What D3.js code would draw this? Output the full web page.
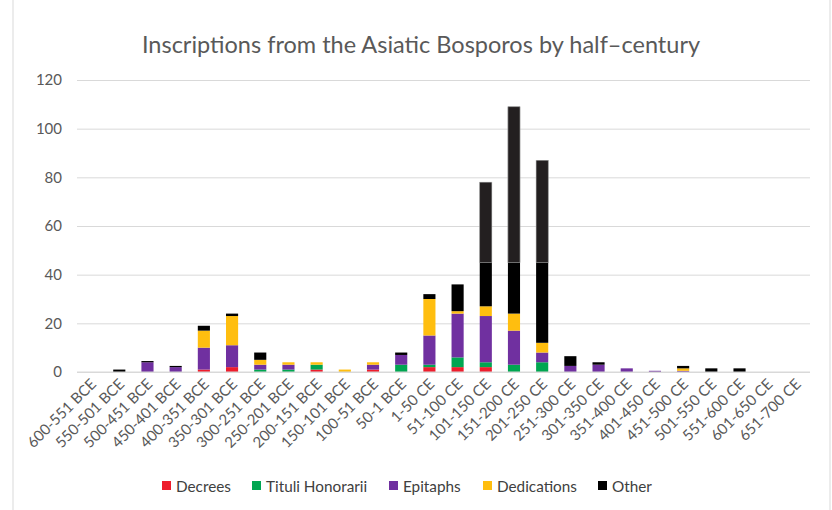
<!DOCTYPE html>
<html>
<head>
<meta charset="utf-8">
<script src="https://cdn.jsdelivr.net/npm/d3@7"></script>
<style>
  html, body { margin: 0; padding: 0; background: #fff; }
  svg { display: block; font-family: Lato, "Open Sans", sans-serif; }
</style>
</head>
<body>
<svg id="chart" width="832" height="510"></svg>
<script>
// Half-century periods
const periods = [
  "600-551 BCE", "550-501 BCE", "500-451 BCE", "450-401 BCE", "400-351 BCE",
  "350-301 BCE", "300-251 BCE", "250-201 BCE", "200-151 BCE", "150-101 BCE",
  "100-51 BCE", "50-1 BCE", "1-50 CE", "51-100 CE", "101-150 CE",
  "151-200 CE", "201-250 CE", "251-300 CE", "301-350 CE", "351-400 CE",
  "401-450 CE", "451-500 CE", "501-550 CE", "551-600 CE", "601-650 CE", "651-700 CE"
];

// Counts per inscription type
const decrees     = [0, 0, 0, 0, 1, 2, 0, 0, 1, 0, 1, 0, 2, 2, 2, 0, 0, 0, 0, 0, 0, 0, 0, 0, 0, 0];
const tituli      = [0, 0, 0, 0, 0, 0, 1, 1, 2, 0, 0, 3, 1, 4, 2, 3, 4, 0, 0, 0, 0, 0, 0, 0, 0, 0];
const epitaphs    = [0, 0, 4, 2, 9, 9, 2, 2, 0, 0, 2, 4, 12, 18, 19, 14, 4, 2.5, 3, 1.5, 0.5, 0.5, 0, 0, 0, 0];
const dedications = [0, 0, 0, 0, 7, 12, 2, 1, 1, 1, 1, 0, 15, 1, 4, 7, 4, 0, 0, 0, 0, 1, 0, 0, 0, 0];
const other       = [0, 1, 0.5, 0.5, 2, 1, 3, 0, 0, 0, 0, 1, 2, 11, 51, 85, 75, 4, 1, 0, 0, 1, 1.5, 1.5, 0, 0];

const seriesNames  = ["Decrees", "Tituli Honorarii", "Epitaphs", "Dedications", "Other"];
const seriesColors = ["#ee1d2c", "#00a651", "#7030a0", "#ffbe0f", "#000000"];
const yTicks = [0, 20, 40, 60, 80, 100, 120];
// The tall "Other" columns change shade above this level
const otherShadeBreak = 45;

const svg = d3.select("#chart");
const W = 832, H = 510;
const margin = { left: 77, right: 22, top: 80, bottom: 138 };

// Frame edges
svg.append("line").attr("x1", 13).attr("x2", 13).attr("y1", 0).attr("y2", H)
  .attr("stroke", "#d9d9d9");
svg.append("line").attr("x1", 830).attr("x2", 830).attr("y1", 0).attr("y2", H)
  .attr("stroke", "#d9d9d9");

const rows = periods.map((p, i) => ({
  period: p,
  "Decrees": decrees[i],
  "Tituli Honorarii": tituli[i],
  "Epitaphs": epitaphs[i],
  "Dedications": dedications[i],
  "Other": other[i]
}));

const x = d3.scaleBand().domain(periods)
  .range([margin.left, W - margin.right]).paddingInner(0.57).paddingOuter(0.285);
const y = d3.scaleLinear().domain([0, 120]).range([H - margin.bottom, margin.top]);
const color = d3.scaleOrdinal().domain(seriesNames).range(seriesColors);

// Title
svg.append("text")
  .attr("x", 421).attr("y", 53)
  .attr("text-anchor", "middle")
  .attr("fill", "#595959")
  .attr("font-size", 23.5)
  .text("Inscriptions from the Asiatic Bosporos by half\u2013century");

// Gridlines and y labels
const yAxis = d3.axisLeft(y).tickValues(yTicks).tickSize(-(W - margin.left - margin.right)).tickPadding(15);
const gy = svg.append("g").attr("transform", `translate(${margin.left},0)`).call(yAxis);
gy.select(".domain").remove();
gy.selectAll(".tick line").attr("stroke", "#d9d9d9").attr("stroke-width", 1);
gy.selectAll(".tick text").attr("fill", "#595959").attr("font-size", 15)
  .attr("font-family", "Lato, sans-serif");

// Stacked bars
const stack = d3.stack().keys(seriesNames);
const layers = stack(rows);

svg.append("g").selectAll("g")
  .data(layers)
  .join("g")
  .attr("fill", d => color(d.key))
  .selectAll("rect")
  .data(d => d)
  .join("rect")
  .attr("x", d => x(d.data.period))
  .attr("width", x.bandwidth())
  .attr("y", d => y(d[1]))
  .attr("height", d => Math.max(0, y(d[0]) - y(d[1])));

// Upper part of the tallest "Other" columns in a lighter black
const otherLayer = layers[seriesNames.indexOf("Other")];
svg.append("g").selectAll("rect")
  .data(otherLayer.filter(d => d[1] > otherShadeBreak && d[0] < otherShadeBreak))
  .join("rect")
  .attr("x", d => x(d.data.period))
  .attr("width", x.bandwidth())
  .attr("y", d => y(d[1]))
  .attr("height", d => y(otherShadeBreak) - y(d[1]))
  .attr("fill", "#231f20")
  .attr("stroke", "#b0b0b0")
  .attr("stroke-width", 0.6);

// Baseline
svg.append("line")
  .attr("x1", margin.left).attr("x2", W - margin.right)
  .attr("y1", y(0)).attr("y2", y(0))
  .attr("stroke", "#d9d9d9");

// Category labels
const xAxis = d3.axisBottom(x).tickSize(0).tickPadding(0);
const gx = svg.append("g").attr("transform", `translate(0,${y(0)})`).call(xAxis);
gx.select(".domain").remove();
gx.selectAll(".tick text")
  .attr("fill", "#595959")
  .attr("font-size", 15)
  .attr("font-family", "Lato, sans-serif")
  .attr("text-anchor", "end")
  .attr("dy", 0)
  .attr("transform", "translate(6,13) rotate(-45)");

// Legend
const legendX = [162, 252, 389, 483, 598];
const legend = svg.append("g");
seriesNames.forEach((name, i) => {
  const g = legend.append("g").attr("transform", `translate(${legendX[i]},486)`);
  g.append("rect").attr("x", 0).attr("y", -5).attr("width", 9).attr("height", 9)
    .attr("fill", seriesColors[i]);
  g.append("text").attr("x", 14).attr("y", 5.5)
    .attr("fill", "#404040").attr("font-size", 15.3)
    .text(name);
});
</script>
</body>
</html>
